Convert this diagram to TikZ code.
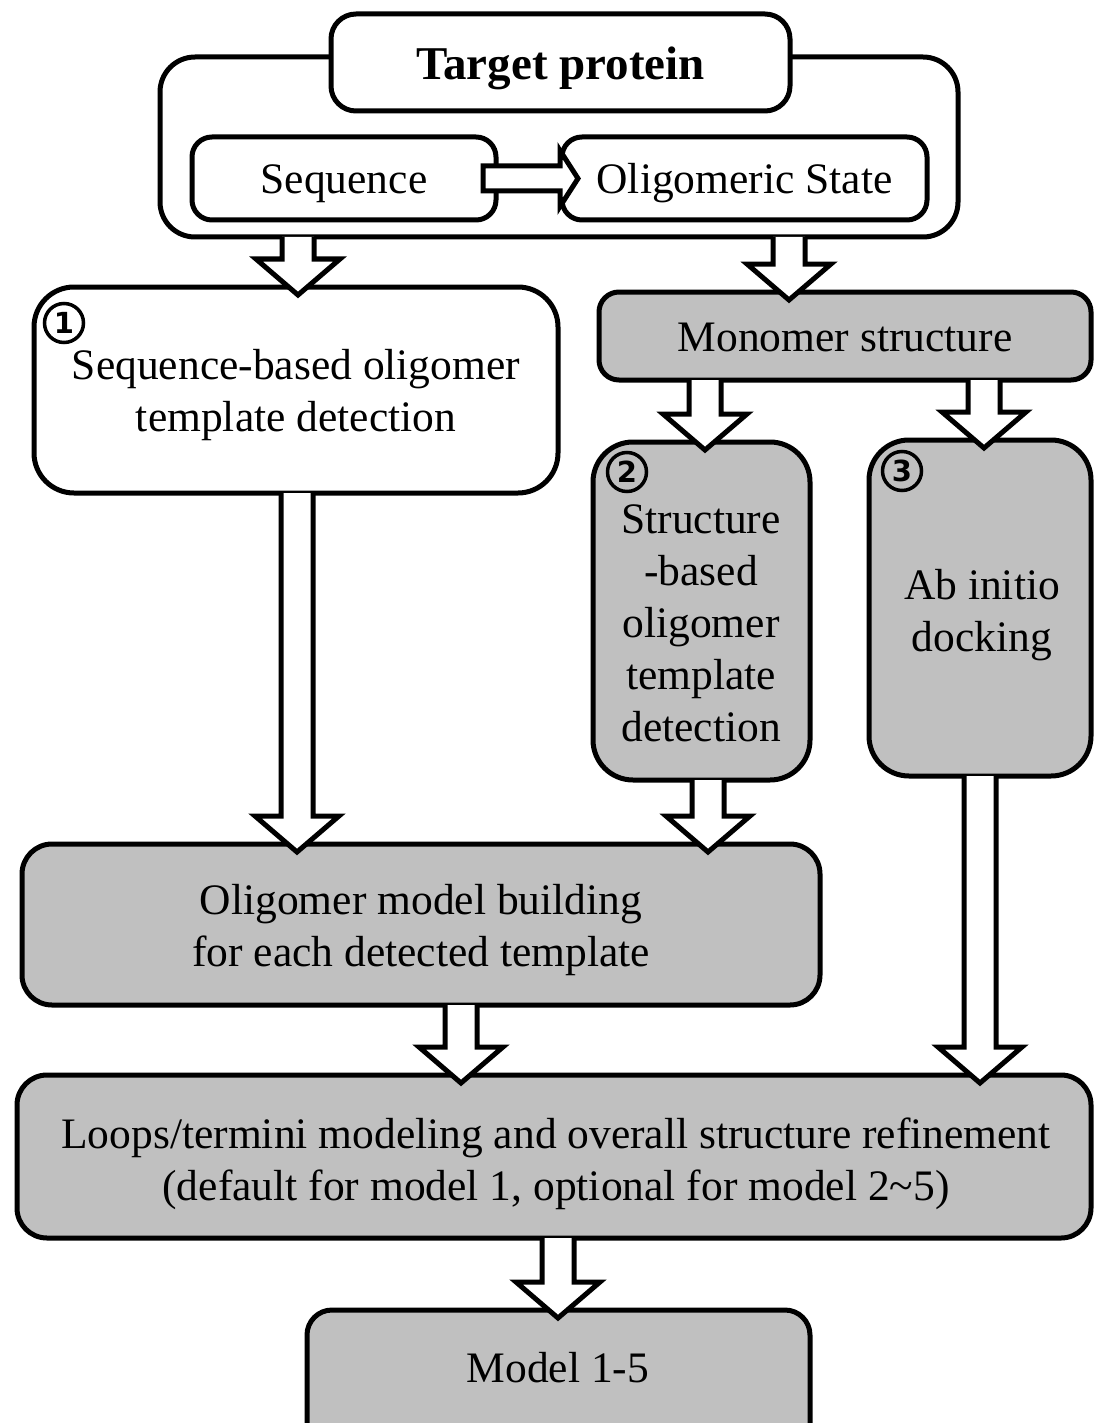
\documentclass[tikz,border=0pt]{standalone}
\usepackage{fontspec}
\setmainfont{Liberation Serif}
\newfontfamily\circfont{DejaVu Sans}
\usetikzlibrary{calc}
\definecolor{boxgray}{HTML}{C0C0C0}
\tikzset{
  bx/.style={draw, line width=5pt, inner sep=0pt, outer sep=0pt, align=center, font=\fontsize{43.5}{52}\selectfont,
    execute at begin node={\rule{0pt}{42pt}}, execute at end node={\rule[-12pt]{0pt}{12pt}}},
  wbx/.style={bx, fill=white},
  gbx/.style={bx, fill=boxgray},
  blk/.style={draw, fill=white, line width=5pt, line join=miter, miter limit=10},
  num/.style={circle, draw, line width=3.5pt, minimum size=39pt, inner sep=0pt, font=\circfont\bfseries\fontsize{29}{29}\selectfont},
  lbl/.style={align=center, inner sep=0pt, font=\fontsize{43.5}{52}\selectfont}
}
\newcommand\vbarrow[3]{%
  \draw[blk] let \p1=(#2.south), \p2=(#3.north) in
    (#1pt-16pt,\y1) -- (#1pt-16pt,\y2+28pt) -- (#1pt-42pt,\y2+28pt) --
    (#1pt,\y2-8pt) -- (#1pt+42pt,\y2+28pt) -- (#1pt+16pt,\y2+28pt) -- (#1pt+16pt,\y1);}
\begin{document}
\begin{tikzpicture}[x=1pt,y=-1pt]
\useasboundingbox (0,0) rectangle (1094,1423);
\clip (0,0) rectangle (1094,1423);
% top group
\node[wbx, rounded corners=35pt, minimum width=798pt, minimum height=180pt] (outer) at (559,147) {};
\node[wbx, rounded corners=25pt, minimum width=459pt, minimum height=97pt, font=\bfseries\fontsize{47}{52}\selectfont,
  execute at begin node={\rule{0pt}{47pt}}] (target) at (560.5,62.5) {Target protein};
\node[wbx, rounded corners=20pt, minimum width=304pt, minimum height=83pt] (seq) at (344,178.5) {Sequence};
\node[wbx, rounded corners=20pt, minimum width=365pt, minimum height=83pt] (olig) at (744.5,178.5) {Oligomeric State};
\draw[blk] let \p1=(seq.east), \p2=(olig.west) in
  (\x1-13pt,\y1+12.5pt) -- (\x2-2pt,\y1+12.5pt) -- (\x2-2pt,\y1+28pt) -- (\x2+16pt,\y1) --
  (\x2-2pt,\y1-28pt) -- (\x2-2pt,\y1-12.5pt) -- (\x1-13pt,\y1-12.5pt) -- cycle;
% main boxes
\node[wbx, rounded corners=40pt, minimum width=524pt, minimum height=206pt] (b1) at (296,390) {};
\node[lbl] (b1t) at (296,395.5) {Sequence-based oligomer\\template detection};
\node[gbx, rounded corners=20pt, minimum width=492pt, minimum height=88pt] (mono) at (845,336) {Monomer structure};
\node[gbx, rounded corners=40pt, minimum width=217pt, minimum height=338pt] (b2) at (701.5,611) {};
\node[lbl] (b2t) at (701,623) {Structure\\-based\\oligomer\\template\\detection};
\node[gbx, rounded corners=40pt, minimum width=222pt, minimum height=336pt] (b3) at (980,608) {};
\node[lbl] (b3t) at (982,615.5) {Ab initio\\docking};
\node[gbx, rounded corners=30pt, minimum width=798pt, minimum height=161pt] (omb) at (421,924.5) {};
\node[lbl] (ombt) at (421,930.5) {Oligomer model building\\for each detected template};
\node[gbx, rounded corners=30pt, minimum width=1074pt, minimum height=163pt] (loops) at (554,1156.5) {};
\node[lbl] (loopst) at (556,1164) {Loops/termini modeling and overall structure refinement\\(default for model 1, optional for model 2\textasciitilde5)};
\node[gbx, rounded corners=25pt, minimum width=503pt, minimum height=140pt] (model) at (558.5,1380) {};
\node[lbl] (modelt) at (558,1368) {Model 1-5};
% block arrows
\vbarrow{298}{outer}{b1}
\vbarrow{789}{outer}{mono}
\vbarrow{705}{mono}{b2}
\vbarrow{984}{mono}{b3}
\vbarrow{297}{b1}{omb}
\vbarrow{708}{b2}{omb}
\vbarrow{461}{omb}{loops}
\vbarrow{980}{b3}{loops}
\vbarrow{558}{loops}{model}
% circled numbers
\node[num] (n1) at (64,323) {1};
\node[num] (n2) at (627,472) {2};
\node[num] (n3) at (902,471) {3};
\end{tikzpicture}
\end{document}
